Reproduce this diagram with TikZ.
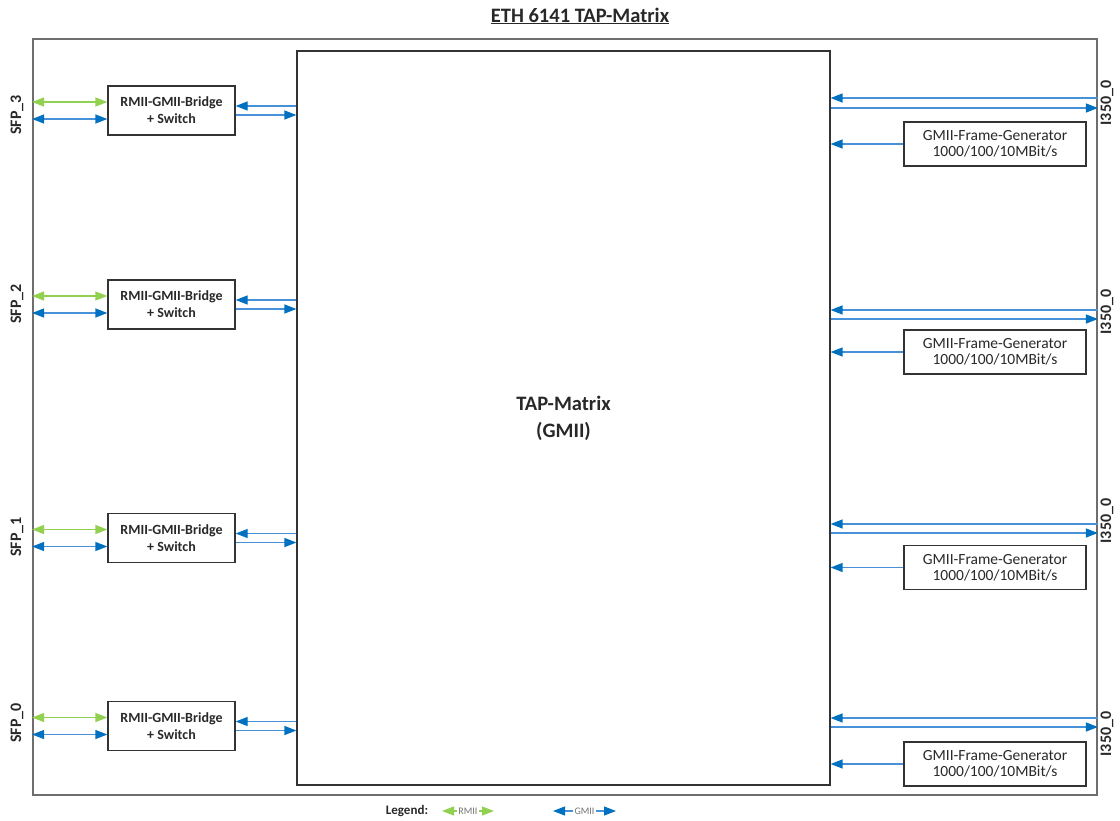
\documentclass[tikz,border=0pt]{standalone}
\usepackage{fontspec}
\setmainfont{Carlito}
\usetikzlibrary{arrows.meta,calc}
\definecolor{gmiiblue}{RGB}{0,112,192}
\definecolor{gmiiline}{RGB}{70,145,215}
\definecolor{rmiigreen}{RGB}{146,208,80}
\definecolor{framegray}{RGB}{110,110,110}
\definecolor{txtgray}{RGB}{40,40,40}
\tikzset{
  btip/.tip={Triangle[length=12pt,width=9pt,fill=gmiiblue,color=gmiiblue]},
  gtip/.tip={Triangle[length=12pt,width=9pt,fill=rmiigreen,color=rmiigreen]},
  frm/.style={draw=framegray, line width=1.8pt, inner sep=0pt},
  tapbox/.style={draw=black!80, line width=1.2pt, inner sep=0pt, align=center,
    font=\fontsize{20.5}{27}\selectfont\bfseries, text=txtgray},
  bridge/.style={draw=black!80, line width=1.3pt, minimum width=127pt, minimum height=49pt,
    inner sep=0pt, align=center, font=\fontsize{14}{17}\selectfont\bfseries, text=txtgray},
  gen/.style={draw=black!80, line width=1.3pt, minimum width=182pt, minimum height=44pt,
    inner sep=0pt, align=center, font=\fontsize{15.5}{16}\selectfont, text=txtgray},
  port/.style={font=\fontsize{16}{18}\selectfont\bfseries, text=txtgray, inner sep=0pt},
  gmii/.style={draw=gmiiline, line width=1.3pt, arrows={btip-btip}},
  gmiir/.style={draw=gmiiline, line width=1.3pt, arrows={-btip}},
  rmii/.style={draw=rmiigreen, line width=1.3pt, arrows={gtip-gtip}},
  legtxt/.style={fill=white, inner sep=1.5pt, font=\fontsize{10}{12}\selectfont, text=black!55},
}
\begin{document}
\begin{tikzpicture}[x=1pt,y=-1pt]
\useasboundingbox (0,0) rectangle (1120,820);
% title
\node[font=\fontsize{20.5}{24}\selectfont\bfseries, text=txtgray] (title) at (580,16) {\underline{ETH 6141 TAP-Matrix}};
% outer frame
\node[frm, minimum width=1064pt, minimum height=756pt] (frame) at (565,417) {};
% TAP matrix
\node[tapbox, minimum width=533pt, minimum height=734pt] (tap) at (563.5,418) {TAP-Matrix\\(GMII)};
% left side
\foreach \i/\yc/\ly in {3/110.5/115, 2/304.5/304, 1/538/537, 0/726/723} {
  \node[bridge] (b\i) at (171.5,\yc) {RMII-GMII-Bridge\\+ Switch};
  \node[port, rotate=90] (s\i) at (17,\ly) {SFP\_\i};
  \coordinate (g\i) at ([yshift=8.5pt]b\i.west);
  \coordinate (u\i) at ([yshift=-8.5pt]b\i.west);
  \draw[rmii] (frame.west |- g\i) -- (g\i);
  \draw[gmii] (frame.west |- u\i) -- (u\i);
  \coordinate (p\i) at ([yshift=4.5pt]b\i.east);
  \coordinate (q\i) at ([yshift=-4.5pt]b\i.east);
  \draw[gmiir] (tap.west |- p\i) -- (p\i);
  \draw[gmiir] (q\i) -- (tap.west |- q\i);
}
% right side
\foreach \i/\ya/\yb/\yg/\ly in {3/98/108/144/103, 2/310/319/352/312, 1/524/533/567.5/521, 0/718/727/764/734} {
  \node[gen] (gen\i) at (995,\yg) {GMII-Frame-Generator\\1000/100/10MBit/s};
  \node[port, rotate=90] (n\i) at (1107,\ly) {I350\_0};
  \coordinate (ra\i) at (0,\ya);
  \coordinate (rb\i) at (0,\yb);
  \draw[gmiir] (frame.east |- ra\i) -- (tap.east |- ra\i);
  \draw[gmiir] (tap.east |- rb\i) -- (frame.east |- rb\i);
  \draw[gmiir] (gen\i.west) -- (tap.east |- gen\i.west);
}
% legend
\node[font=\fontsize{13}{15}\selectfont\bfseries, text=txtgray] (leg) at (407,811) {Legend:};
\coordinate (l1a) at (442,811);
\coordinate (l1b) at (494,811);
\coordinate (l2a) at (553,811);
\coordinate (l2b) at (616,811);
\draw[rmii, line width=1.1pt] (l1a) -- node[legtxt] (lr) {RMII} (l1b);
\draw[gmii, line width=1.1pt] (l2a) -- node[legtxt] (lg) {GMII} (l2b);
\end{tikzpicture}
\end{document}
